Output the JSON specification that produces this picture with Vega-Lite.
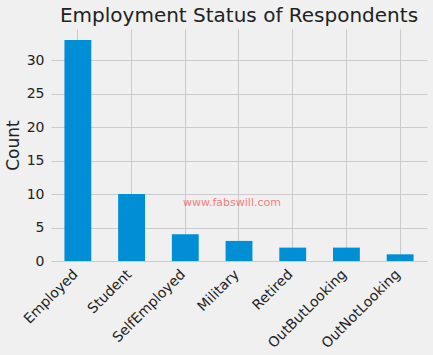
{
  "$schema": "https://vega.github.io/schema/vega-lite/v6.json",
  "autosize": {"type": "none"},
  "padding": {"left": 51, "top": 29, "right": 6, "bottom": 94},
  "width": 376,
  "height": 232,
  "background": "#f0f0f0",
  "config": {
    "font": "DejaVu Sans",
    "view": {"stroke": null, "fill": "#f0f0f0"},
    "axis": {
      "domain": false,
      "ticks": false,
      "gridColor": "#cbcbcb",
      "gridWidth": 1,
      "labelFont": "DejaVu Sans",
      "labelFontSize": 14,
      "labelColor": "#222222",
      "titleFont": "DejaVu Sans",
      "titleFontWeight": "normal",
      "titleColor": "#222222"
    }
  },
  "title": {
    "text": "Employment Status of Respondents",
    "font": "DejaVu Sans",
    "fontSize": 20,
    "fontWeight": "normal",
    "color": "#222222",
    "anchor": "middle",
    "offset": 3
  },
  "encoding": {
    "x": {
      "field": "status",
      "type": "nominal",
      "sort": null,
      "scale": {"paddingInner": 0.5, "paddingOuter": 0.25},
      "axis": {
        "title": null,
        "labelAngle": -45,
        "labelAlign": "right",
        "labelBaseline": "top",
        "labelPadding": 6,
        "labelOffset": -7,
        "grid": true
      }
    },
    "y": {
      "field": "count",
      "type": "quantitative",
      "scale": {"domain": [0, 34.65], "nice": false},
      "axis": {
        "title": "Count",
        "titleFontSize": 17,
        "titlePadding": 4,
        "values": [0, 5, 10, 15, 20, 25, 30],
        "labelOverlap": false,
        "labelPadding": 7
      }
    }
  },
  "layer": [
    {
      "data": {
        "values": [
          {"status": "Employed", "count": 33},
          {"status": "Student", "count": 10},
          {"status": "SelfEmployed", "count": 4},
          {"status": "Military", "count": 3},
          {"status": "Retired", "count": 2},
          {"status": "OutButLooking", "count": 2},
          {"status": "OutNotLooking", "count": 1}
        ]
      },
      "mark": {"type": "bar", "color": "#008fd5"}
    },
    {
      "data": {"values": [{"status": "Military", "count": 8.7, "label": "www.fabswill.com"}]},
      "mark": {"type": "text", "color": "red", "opacity": 0.5, "fontSize": 11, "font": "DejaVu Sans", "baseline": "middle", "align": "center", "dx": -7},
      "encoding": {
        "text": {"field": "label"}
      }
    }
  ]
}
